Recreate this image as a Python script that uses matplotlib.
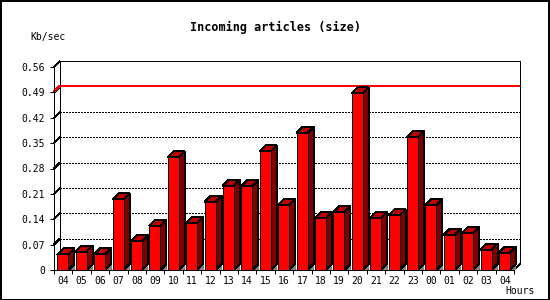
import matplotlib
matplotlib.use('Agg')
import matplotlib.pyplot as plt
from matplotlib.patches import Polygon, Rectangle

# data
hours = ['04', '05', '06', '07', '08', '09', '10', '11', '12', '13', '14', '15',
         '16', '17', '18', '19', '20', '21', '22', '23', '00', '01', '02', '03', '04']
kb_sec = [0.043, 0.051, 0.043, 0.195, 0.079, 0.122, 0.311, 0.130, 0.188, 0.233,
          0.231, 0.327, 0.179, 0.378, 0.144, 0.160, 0.487, 0.144, 0.151, 0.366,
          0.179, 0.097, 0.103, 0.056, 0.048]
yticks = [0, 0.07, 0.14, 0.21, 0.28, 0.35, 0.42, 0.49, 0.56]
ytick_labels = ['0', '0.07', '0.14', '0.21', '0.28', '0.35', '0.42', '0.49', '0.56']
max_line = 0.492

W, H = 550, 300
fig = plt.figure(figsize=(W / 100, H / 100), dpi=100)
fig.patch.set_facecolor('white')

lw = 0.72  # one pixel
mono = 'DejaVu Sans Mono'

# frame around the image
fig.patches.append(Rectangle((0.5 / W, 0.5 / H), 1 - 1.5 / W, 1 - 1.5 / H,
                             transform=fig.transFigure, fill=False,
                             edgecolor='black', linewidth=lw * 1.5, antialiased=False))

# front plane of the 3d box
left, right, bottom, top = 54, 514, 270, 67
ax = fig.add_axes([left / W, (H - bottom) / H, (right - left) / W, (bottom - top) / H])
n = len(hours)
ymax = 0.56
ax.set_xlim(0, n)
ax.set_ylim(0, ymax)
ax.set_facecolor('none')

# depth of the box, 6 px right and 6 px up, in data units
ddx = 6 / ((right - left) / n)
ddy = 6 / ((bottom - top) / ymax)

line_kw = dict(lw=lw, clip_on=False, antialiased=False, solid_capstyle='butt')

# back wall
ax.plot([ddx, ddx, n + ddx, n + ddx], [ddy, ymax + ddy, ymax + ddy, ddy],
        color='black', zorder=1, **line_kw)
ax.plot([0, ddx], [ymax, ymax + ddy], color='black', zorder=1, **line_kw)
ax.plot([n, n + ddx], [0, ddy], color='black', zorder=1, **line_kw)

# dotted grid on the back wall
for v in yticks[1:-1]:
    ax.plot([ddx, n + ddx], [v + ddy, v + ddy], color='black',
            ls=(0, (2, 2)), zorder=1, **line_kw)
    ax.plot([0, ddx], [v, v + ddy], color='black', zorder=1, **line_kw)

# red max line
ax.plot([0, ddx, n + ddx], [max_line, max_line + ddy, max_line + ddy],
        color='#ff0000', zorder=2, **line_kw)

# bars
x_off, bw = 0.18, 0.6
patch_kw = dict(closed=True, clip_on=False, antialiased=False)
for i, v in enumerate(kb_sec):
    x0 = i + x_off
    x1 = x0 + bw
    shadow = Polygon([(x1, 0), (x1 + ddx, ddy), (x1 + ddx, 0)],
                     facecolor='#808080', edgecolor='none', zorder=3, **patch_kw)
    side = Polygon([(x1, 0), (x1 + ddx, ddy), (x1 + ddx, v + ddy), (x1, v)],
                   facecolor='#800000', edgecolor='black', lw=lw, zorder=4, **patch_kw)
    topf = Polygon([(x0, v), (x1, v), (x1 + ddx, v + ddy), (x0 + ddx, v + ddy)],
                   facecolor='#c00000', edgecolor='black', lw=lw, zorder=4, **patch_kw)
    front = Rectangle((x0, 0), bw, v, facecolor='#ff0000', edgecolor='black',
                      lw=lw, clip_on=False, antialiased=False, zorder=5)
    for p in (shadow, side, topf, front):
        ax.add_patch(p)

# axes
for s in ('top', 'right'):
    ax.spines[s].set_visible(False)
for s in ('left', 'bottom'):
    ax.spines[s].set_linewidth(lw)
    ax.spines[s].set_zorder(6)
    ax.spines[s].set_antialiased(False)

ax.set_yticks(yticks)
ax.set_yticklabels(ytick_labels, fontfamily=mono, fontsize=7)
ax.tick_params(axis='y', length=3, width=lw, pad=3.6)

ax.set_xticks(range(n + 1))
ax.set_xticklabels([])
ax.set_xticks([i + 0.5 for i in range(n)], minor=True)
ax.set_xticklabels(hours, minor=True, fontfamily=mono, fontsize=7)
ax.tick_params(axis='x', which='major', length=3, width=lw)
ax.tick_params(axis='x', which='minor', length=0, pad=4)

fig.text(275 / W, 1 - 27 / H, 'Incoming articles (size)', ha='center', va='center',
         fontfamily=mono, fontweight='bold', fontsize=8.5)
fig.text(30 / W, 1 - 37 / H, 'Kb/sec', ha='left', va='center', fontfamily=mono, fontsize=7)
fig.text(505 / W, 1 - 291 / H, 'Hours', ha='left', va='center', fontfamily=mono, fontsize=7)

fig.savefig('out.png', dpi=100)
